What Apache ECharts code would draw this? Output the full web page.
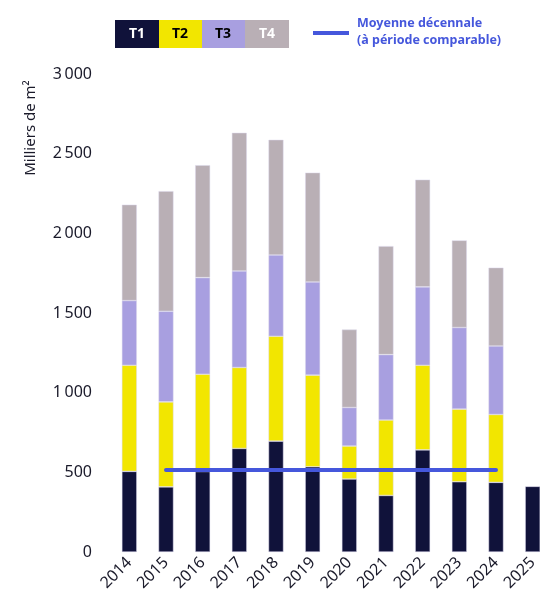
<!DOCTYPE html>
<html>
<head>
<meta charset="utf-8">
<script src="https://cdn.jsdelivr.net/npm/echarts@6/dist/echarts.min.js"></script>
<style>
  html, body { margin: 0; padding: 0; background: #ffffff; }
  #chart { width: 540px; height: 607px; }
</style>
</head>
<body>
<div id="chart"></div>
<script>
// Surfaces by size class (milliers de m²)
const years = ['2014','2015','2016','2017','2018','2019','2020','2021','2022','2023','2024','2025'];
const t1 = [506, 409, 505, 650, 696, 535, 458, 355, 641, 441, 437, 412];
const t2 = [666, 533, 611, 508, 658, 575, 207, 473, 531, 456, 426, null];
const t3 = [406, 569, 606, 606, 510, 585, 242, 411, 492, 512, 430, null];
const t4 = [602, 754, 706, 867, 723, 686, 489, 681, 673, 547, 492, null];
// Ten-year average, drawn across 2015–2024
const moyenne = [null, 515, 515, 515, 515, 515, 515, 515, 515, 515, 515, null];
const yTicks = [0, 500, 1000, 1500, 2000, 2500, 3000];

const colors = { t1: '#10123a', t2: '#f2e600', t3: '#a89fe0', t4: '#b9afb5', line: '#4557dc' };
const font = '"Noto Sans", Inter, sans-serif';

function fmt(v) {
  const s = String(v);
  return s.length > 3 ? s.slice(0, s.length - 3) + '\u202F' + s.slice(-3) : s;
}

function barSeries(name, data, color) {
  return {
    name, type: 'bar', stack: 'total', data, barWidth: 15,
    itemStyle: { color, borderColor: 'rgba(220,215,235,0.8)', borderWidth: 0.6 },
    emphasis: { disabled: true }
  };
}

const chart = echarts.init(document.getElementById('chart'), null, { renderer: 'canvas' });
chart.setOption({
  animation: false,
  backgroundColor: '#ffffff',
  grid: { left: 111, width: 440, top: 74, height: 478, containLabel: false, outerBoundsMode: 'none' },
  xAxis: {
    type: 'category', data: years,
    axisLine: { show: false }, axisTick: { show: false },
    axisLabel: { rotate: 45, color: '#1a1a2a', fontSize: 16, fontFamily: font, margin: 8, interval: 0 }
  },
  yAxis: {
    type: 'value', min: yTicks[0], max: yTicks[yTicks.length - 1], interval: 500,
    splitLine: { show: false }, axisLine: { show: false }, axisTick: { show: false },
    axisLabel: { color: '#1a1a2a', fontSize: 16, fontFamily: font, margin: 19, formatter: fmt }
  },
  series: [
    barSeries('T1', t1, colors.t1),
    barSeries('T2', t2, colors.t2),
    barSeries('T3', t3, colors.t3),
    barSeries('T4', t4, colors.t4),
    {
      name: 'Moyenne décennale', type: 'line', data: moyenne, z: 10,
      symbol: 'none', lineStyle: { color: colors.line, width: 4, cap: 'round' },
      emphasis: { disabled: true }
    }
  ],
  graphic: [
    { type: 'text', x: 31, y: 128, rotation: Math.PI / 2,
      style: { text: 'Milliers de m²', fill: '#1a1a2a', font: '15px ' + font, align: 'center', verticalAlign: 'middle' } },
    { type: 'rect', shape: { x: 115, y: 20, width: 44, height: 28 }, style: { fill: colors.t1 } },
    { type: 'rect', shape: { x: 159, y: 20, width: 43, height: 28 }, style: { fill: colors.t2 } },
    { type: 'rect', shape: { x: 202, y: 20, width: 43, height: 28 }, style: { fill: colors.t3 } },
    { type: 'rect', shape: { x: 245, y: 20, width: 44, height: 28 }, style: { fill: colors.t4 } },
    { type: 'text', x: 137, y: 34, style: { text: 'T1', fill: '#ffffff', font: 'bold 14px ' + font, align: 'center', verticalAlign: 'middle' } },
    { type: 'text', x: 180, y: 34, style: { text: 'T2', fill: '#000000', font: 'bold 14px ' + font, align: 'center', verticalAlign: 'middle' } },
    { type: 'text', x: 223, y: 34, style: { text: 'T3', fill: '#000000', font: 'bold 14px ' + font, align: 'center', verticalAlign: 'middle' } },
    { type: 'text', x: 267, y: 34, style: { text: 'T4', fill: '#ffffff', font: 'bold 14px ' + font, align: 'center', verticalAlign: 'middle' } },
    { type: 'line', shape: { x1: 313, y1: 33, x2: 349, y2: 33 }, style: { stroke: colors.line, lineWidth: 4 } },
    { type: 'text', x: 357, y: 15, style: { text: 'Moyenne décennale\n(à période comparable)', fill: colors.line, font: 'bold 12.5px ' + font, lineHeight: 17 } }
  ]
});
</script>
</body>
</html>
